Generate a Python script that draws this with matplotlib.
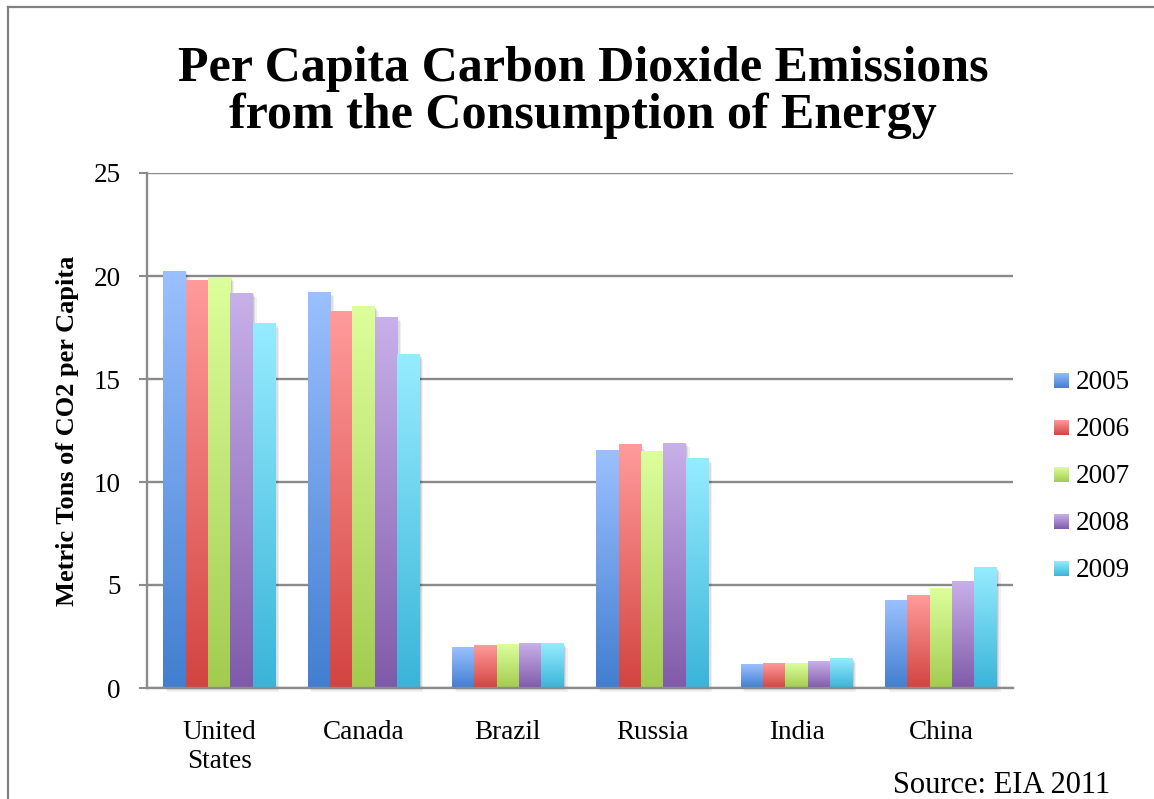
import numpy as np
import matplotlib.pyplot as plt
from matplotlib.colors import LinearSegmentedColormap
from matplotlib.lines import Line2D
from matplotlib.patches import Rectangle

countries = ["United\nStates", "Canada", "Brazil", "Russia", "India", "China"]
years = ["2005", "2006", "2007", "2008", "2009"]

# metric tons of CO2 per capita, one list per year
em_2005 = [20.24, 19.22, 1.99, 11.55, 1.12, 4.27]
em_2006 = [19.80, 18.30, 2.04, 11.80, 1.17, 4.47]
em_2007 = [19.95, 18.50, 2.09, 11.50, 1.21, 4.81]
em_2008 = [19.17, 18.00, 2.18, 11.89, 1.31, 5.19]
em_2009 = [17.67, 16.17, 2.14, 11.12, 1.41, 5.83]
series = [em_2005, em_2006, em_2007, em_2008, em_2009]

# (dark bottom, light top) for each year's gradient fill
shades = [("#427ED0", "#9BC0FF"),
          ("#D24440", "#FF9B9B"),
          ("#A3CB50", "#DCFF9B"),
          ("#805AAA", "#C8B0EA"),
          ("#3AB4D8", "#96ECFF")]
cmaps = [LinearSegmentedColormap.from_list("g%d" % i, [lo, hi]) for i, (lo, hi) in enumerate(shades)]

W, H = 1154, 799
plt.rcParams["font.family"] = ["Liberation Serif", "DejaVu Serif"]

fig = plt.figure(figsize=(W / 100, H / 100), dpi=100)
ax = fig.add_axes([147 / W, 1 - 688 / H, 866 / W, 515 / H])

grad = np.linspace(0, 1, 256).reshape(-1, 1)
bw = 0.155
x = np.arange(len(countries))

for i, vals in enumerate(series):
    for xc, v in zip(x, vals):
        x0 = xc + (i - 2.5) * bw
        # soft drop shadow
        for k, a in zip([0.045, 0.03, 0.015], [0.06, 0.08, 0.1]):
            ax.add_patch(Rectangle((x0 + k * 0.6, -k * 4), bw, v, facecolor="black",
                                   alpha=a, linewidth=0, zorder=2, clip_on=False))
        ax.imshow(grad, cmap=cmaps[i], extent=(x0, x0 + bw, 0, v), origin="lower",
                  aspect="auto", zorder=3, interpolation="bilinear")

ax.set_xlim(-0.5, 5.5)
ax.set_ylim(0, 25)
ax.set_yticks([0, 5, 10, 15, 20, 25])
ax.set_xticks(x)
ax.set_xticklabels(countries, fontsize=19.5, linespacing=1.2)
ax.tick_params(axis="x", length=0, pad=23)
ax.tick_params(axis="y", labelsize=19.5, length=6, width=1.5, color="#8c8c8c", pad=13)
ax.yaxis.grid(True, color="#8a8a8a", linewidth=1.7, zorder=1)
ax.set_axisbelow(True)
for s in ["top", "right"]:
    ax.spines[s].set_visible(False)
for s in ["left", "bottom"]:
    ax.spines[s].set_color("#8c8c8c")
    ax.spines[s].set_linewidth(1.7)
    ax.spines[s].set_zorder(4)

ax.set_ylabel("Metric Tons of CO2 per Capita", fontsize=19, fontweight="bold", va="center")
ax.yaxis.set_label_coords((68 - 147) / 866, 0.5)

fig.text(583 / W, 1 - 81 / H, "Per Capita Carbon Dioxide Emissions", fontsize=36,
         fontweight="bold", ha="center", va="baseline")
fig.text(583 / W, 1 - 128 / H, "from the Consumption of Energy", fontsize=36,
         fontweight="bold", ha="center", va="baseline")

# legend: gradient swatches with year labels
for i, yr in enumerate(years):
    top = 373 + 47 * i
    sw = fig.add_axes([1054 / W, 1 - (top + 15) / H, 15 / W, 15 / H])
    sw.imshow(grad, cmap=cmaps[i], origin="lower", aspect="auto")
    sw.axis("off")
    fig.text(1076 / W, 1 - (top + 16) / H, yr, fontsize=19.5, ha="left", va="baseline")

fig.text(893 / W, 1 - 793 / H, "Source: EIA 2011", fontsize=22, ha="left", va="baseline")

# frame lines along top and left edge
fig.add_artist(Line2D([8 / W, 1], [1 - 7 / H, 1 - 7 / H], color="#808080", linewidth=1.6))
fig.add_artist(Line2D([8 / W, 8 / W], [0, 1 - 7 / H], color="#808080", linewidth=1.6))

fig.savefig("out.png", dpi=100)
